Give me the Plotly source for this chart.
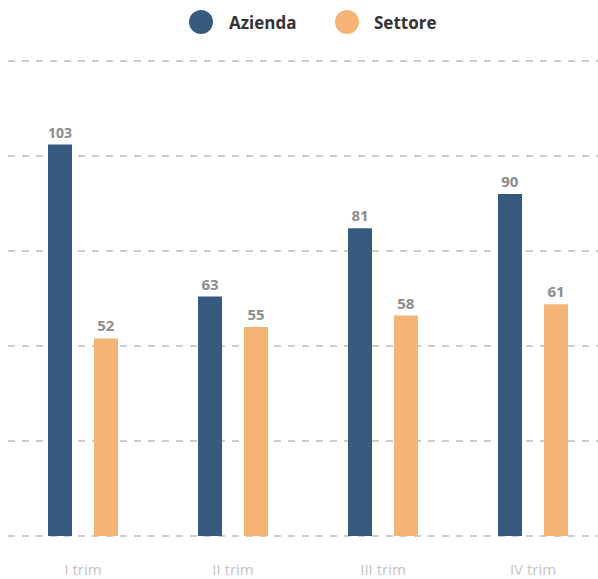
import plotly.graph_objects as go

trimestri = ["I trim", "II trim", "III trim", "IV trim"]
azienda = [103, 63, 81, 90]
settore = [52, 55, 58, 61]

BLU = "#375a7f"
ARANCIO = "#f4b476"
FONT = "Open Sans"

fig = go.Figure()
for nome, valori, colore in [("Azienda", azienda, BLU), ("Settore", settore, ARANCIO)]:
    fig.add_trace(go.Bar(
        x=trimestri, y=valori, name=nome, marker_color=colore, marker_line_width=0,
        text=[str(v) for v in valori], textposition="outside", cliponaxis=False,
        textfont=dict(family=FONT, size=15, color="#8c8c8c", weight="bold"),
        showlegend=False, hoverinfo="skip",
    ))

# legenda disegnata a mano (cerchi grandi)
legenda = [("Azienda", BLU, 201, 228), ("Settore", ARANCIO, 347, 373)]
shapes, annotations = [], []
for nome, colore, cx, tx in legenda:
    shapes.append(dict(
        type="circle", xref="paper", yref="paper",
        xsizemode="pixel", ysizemode="pixel",
        xanchor=(cx - 8) / 590, yanchor=(538 - 22) / 479,
        x0=-12, x1=12, y0=-12, y1=12,
        fillcolor=colore, line_width=0,
    ))
    annotations.append(dict(
        text=nome, xref="paper", yref="paper",
        x=(tx - 9) / 590, y=(538 - 23) / 479,
        xanchor="left", yanchor="middle", showarrow=False,
        font=dict(family=FONT, size=17, color="#333333", weight="bold"),
    ))

fig.update_layout(
    width=598, height=579,
    paper_bgcolor="white", plot_bgcolor="white",
    margin=dict(l=8, r=0, t=59, b=41),
    barmode="group", bargap=0.3867, bargroupgap=0.478,
    shapes=shapes, annotations=annotations,
    font=dict(family=FONT),
)
fig.update_xaxes(
    range=[-0.5, 3.4333], showgrid=False, zeroline=False, showline=False,
    ticks="outside", ticklen=18, tickcolor="rgba(0,0,0,0)",
    tickfont=dict(family=FONT, size=15, color="#c4c4c4"), automargin=False,
)
fig.update_yaxes(
    range=[-0.5, 125.5], dtick=25, showticklabels=False, zeroline=False,
    showgrid=True, gridcolor="#cccccc", gridwidth=2, griddash="7px,7px",
    automargin=False,
)

fig.write_html(
    "out.html",
    config={"displayModeBar": False},
    post_script="document.body.style.margin='0';document.body.style.overflow='hidden';",
)
